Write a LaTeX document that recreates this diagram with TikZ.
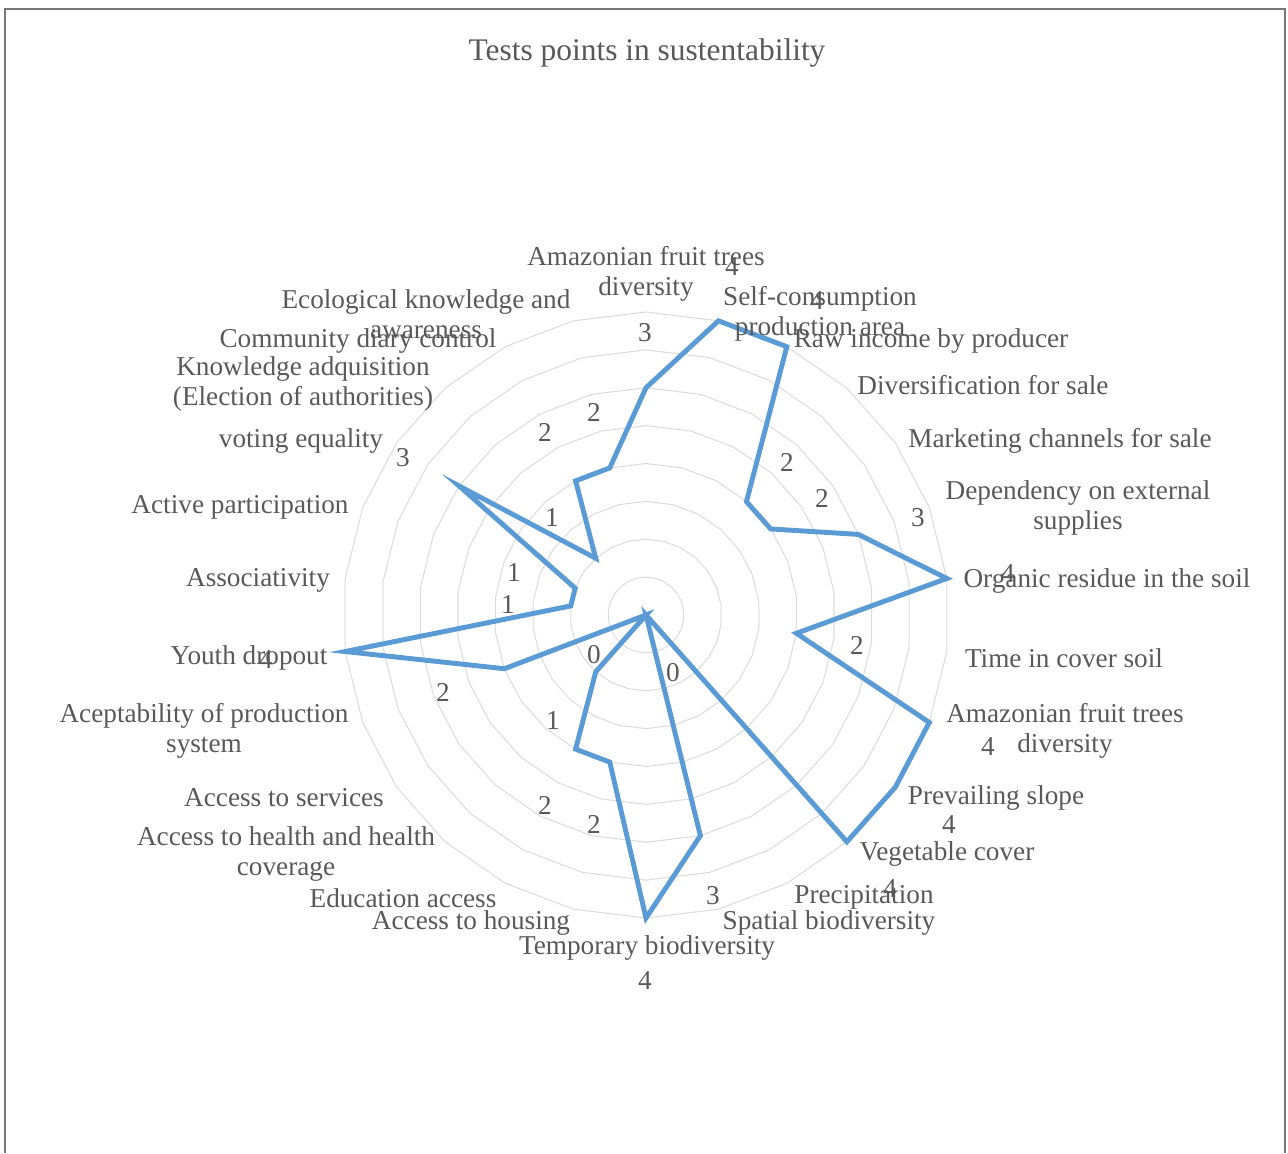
\documentclass[tikz,border=0pt]{standalone}
\usepackage{fontspec}
\setmainfont{Liberation Serif}
\definecolor{txtgray}{HTML}{595959}
\definecolor{ringgray}{HTML}{DCDCDC}
\definecolor{seriesblue}{HTML}{5B9BD5}
\definecolor{framegray}{HTML}{787878}
\newcommand\lblfont{\fontsize{15.5}{17.1}\selectfont}
\newcommand\ttlfont{\fontsize{17.9}{20}\selectfont}
\tikzset{
  lab/.style={font=\lblfont, text=txtgray, align=center, inner sep=0pt, yshift=-0.055cm},
  dlab/.style={font=\lblfont, text=txtgray, inner sep=0pt, yshift=-0.045cm},
  ttl/.style={font=\ttlfont, text=txtgray, inner sep=0pt, yshift=-0.06cm},
  ringline/.style={draw=ringgray, line width=0.6pt},
  series/.style={draw=seriesblue, line width=2.8pt},
  frameline/.style={draw=framegray, line width=1.1pt}
}
\begin{document}
\begin{tikzpicture}[x=0.02cm, y=-0.02cm]
\useasboundingbox[fill=white] (0,0) rectangle (1288,1153);
\draw[frameline] (5,1153) -- (5,9) -- (1285,9) -- (1285,1153);
% title
\node[ttl] (title) at (647,50) {Tests points in sustentability};
% rings
\foreach \k in {1,...,8} {
  \draw[ringline] plot[samples=27, domain=0:360, variable=\t]
    ({646+\k*303/8*sin(\t)}, {615-\k*303/8*cos(\t)}) -- cycle;
}
% data points
\foreach \v [count=\i from 0] in {3,4,4,2,2,3,4,2,4,4,4,0,3,4,2,2,1,0,2,4,1,1,3,1,2,2} {
  \coordinate (p\i) at ({646+\v*75.75*sin(\i*360/26)}, {615-\v*75.75*cos(\i*360/26)});
}
\draw[series] (p0) \foreach \i in {1,...,25} {-- (p\i)} -- cycle;
% category labels
\node[lab] (c0) at (646,271) {Amazonian fruit trees\\diversity};
\node[lab] (c1) at (820,311) {Self-consumption\\production area};
\node[lab] (c2) at (931,338) {Raw income by producer};
\node[lab] (c3) at (983,382) {Diversification for sale};
\node[lab] (c4) at (1060,438) {Marketing channels for sale};
\node[lab] (c5) at (1078,505) {Dependency on external\\supplies};
\node[lab] (c6) at (1107,578) {Organic residue in the soil};
\node[lab] (c7) at (1064,655) {Time in cover soil};
\node[lab] (c8) at (1065,728) {Amazonian fruit trees\\diversity};
\node[lab] (c9) at (996,795) {Prevailing slope};
\node[lab] (c10) at (947,851) {Vegetable cover};
\node[lab] (c11) at (864,895) {Precipitation};
\node[lab] (c12) at (829,920) {Spatial biodiversity};
\node[lab] (c13) at (647,945) {Temporary biodiversity};
\node[lab] (c14) at (471,920) {Access to housing};
\node[lab] (c15) at (403,895) {Education access};
\node[lab] (c16) at (286,851) {Access to health and health\\coverage};
\node[lab] (c17) at (284,795) {Access to services};
\node[lab] (c18) at (204,728) {Aceptability of production\\system};
\node[lab] (c19) at (249,655) {Youth dropout};
\node[lab] (c20) at (258,578) {Associativity};
\node[lab] (c21) at (240,505) {Active participation};
\node[lab] (c22) at (301,438) {voting equality};
\node[lab] (c23) at (303,381) {Knowledge adquisition\\(Election of authorities)};
\node[lab] (c24) at (358,338) {Community diary control};
\node[lab] (c25) at (426,311) {Ecological knowledge and\\awareness};
% data labels
\node[dlab] (d0) at (645,330) {3};
\node[dlab] (d1) at (732,264) {4};
\node[dlab] (d2) at (817,298) {4};
\node[dlab] (d3) at (787,460) {2};
\node[dlab] (d4) at (822,496) {2};
\node[dlab] (d5) at (918,515) {3};
\node[dlab] (d6) at (1008,571) {4};
\node[dlab] (d7) at (857,643) {2};
\node[dlab] (d8) at (988,744) {4};
\node[dlab] (d9) at (949,822) {4};
\node[dlab] (d10) at (890,886) {4};
\node[dlab] (d11) at (673,670) {0};
\node[dlab] (d12) at (713,893) {3};
\node[dlab] (d13) at (645,978) {4};
\node[dlab] (d14) at (594,822) {2};
\node[dlab] (d15) at (545,803) {2};
\node[dlab] (d16) at (553,718) {1};
\node[dlab] (d17) at (594,652) {0};
\node[dlab] (d18) at (443,690) {2};
\node[dlab] (d19) at (266,657) {4};
\node[dlab] (d20) at (508,602) {1};
\node[dlab] (d21) at (514,570) {1};
\node[dlab] (d22) at (403,455) {3};
\node[dlab] (d23) at (552,515) {1};
\node[dlab] (d24) at (545,430) {2};
\node[dlab] (d25) at (594,410) {2};
\end{tikzpicture}
\end{document}
